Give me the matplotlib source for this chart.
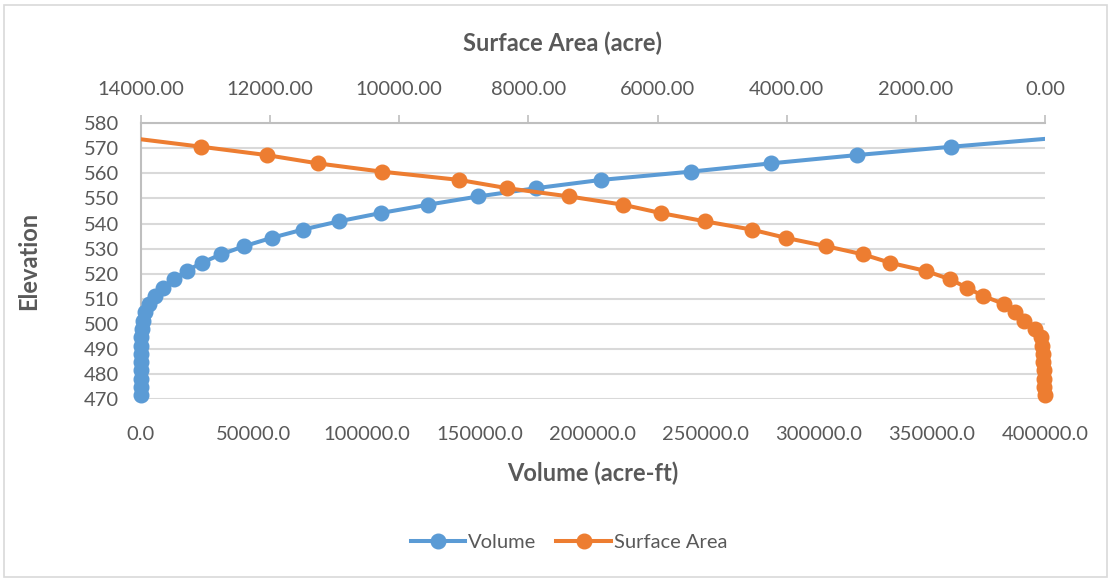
import matplotlib
matplotlib.use('Agg')
import matplotlib.pyplot as plt
from matplotlib.patches import Rectangle

### 데이터: 표고(ft), 저수량(acre-ft), 수면적(acre)
elev = [471.6, 474.9, 478.2, 481.5, 484.8, 488.1, 491.4, 494.7, 498.0, 501.3,
        504.6, 507.9, 511.2, 514.5, 517.8, 521.1, 524.4, 527.7, 531.0, 534.3,
        537.6, 540.9, 544.2, 547.5, 550.8, 554.1, 557.4, 560.7, 564.0, 567.3,
        570.6, 573.9]
volume = [0, 0, 0, 2, 5, 20, 60, 90, 260, 750,
          1800, 3700, 6200, 9900, 14600, 20200, 26900, 35400, 45700, 57800,
          71600, 87600, 106100, 126900, 149200, 174800, 203600, 243400, 278800, 316800,
          358400, 402000]
area = [5, 10, 15, 20, 25, 30, 40, 60, 150, 320,
        465, 630, 965, 1213, 1472, 1843, 2401, 2815, 3392, 4012,
        4543, 5267, 5953, 6532, 7368, 8329, 9073, 10275, 11266, 12056,
        13063, 14100]

vol_ticks = [0, 50000, 100000, 150000, 200000, 250000, 300000, 350000, 400000]
area_ticks = [14000, 12000, 10000, 8000, 6000, 4000, 2000, 0]
elev_ticks = list(range(470, 581, 10))

blue = '#5B9BD5'
orange = '#ED7D31'
gray = '#595959'

plt.rcParams['font.family'] = ['Lato', 'DejaVu Sans']
plt.rcParams['font.size'] = 14.5

fig = plt.figure(figsize=(11.11, 5.8), dpi=100)
ax = fig.add_axes([0.1269, 0.3117, 0.8137, 0.4759])
ax2 = ax.twiny()

### 선은 축 안에서 자르고, 마커는 잘리지 않게 따로 그림
n = len(elev) - 1
ax.plot(volume, elev, color=blue, lw=2.9, zorder=3)
ax.plot(volume[:n], elev[:n], 'o', color=blue, ms=10.5, clip_on=False, zorder=4)
ax2.plot(area, elev, color=orange, lw=2.9, zorder=3)
ax2.plot(area[:n], elev[:n], 'o', color=orange, ms=10.5, clip_on=False, zorder=4)

# 범례용 핸들
l1, = ax.plot([], [], color=blue, lw=2.9, marker='o', ms=10.5, label='Volume')
l2, = ax.plot([], [], color=orange, lw=2.9, marker='o', ms=10.5, label='Surface Area')

ax.set_xlim(0, 400000)
ax.set_ylim(470, 580)
ax2.set_xlim(14000, 0)

ax.set_xticks(vol_ticks)
ax.set_xticklabels(['%.1f' % v for v in vol_ticks])
ax2.set_xticks(area_ticks)
ax2.set_xticklabels(['%.2f' % v for v in area_ticks])
ax.set_yticks(elev_ticks)

ax.grid(axis='y', color='#D9D9D9', lw=1.5)
ax.set_axisbelow(True)

for a in (ax, ax2):
    for s in a.spines.values():
        s.set_visible(False)
ax2.spines['top'].set_visible(True)
ax2.spines['top'].set_color('#BFBFBF')
ax2.spines['top'].set_linewidth(1.5)
ax.spines['left'].set_visible(True)
ax.spines['left'].set_color('#BFBFBF')
ax.spines['left'].set_linewidth(1.5)

ax.tick_params(axis='x', length=0, pad=19, colors=gray)
ax.tick_params(axis='y', length=0, pad=16, colors=gray)
ax2.tick_params(axis='x', length=6, width=1.2, color='#BFBFBF', pad=12,
                labelcolor=gray)

ax.set_xlabel('Volume (acre-ft)', fontweight='bold', color=gray, fontsize=17)
ax.xaxis.set_label_coords(0.5, -0.225)
ax.set_ylabel('Elevation', fontweight='bold', color=gray, fontsize=17)
ax.yaxis.set_label_coords(-0.112, 0.5)
ax2.set_xlabel('Surface Area (acre)', fontweight='bold', color=gray, fontsize=17)
ax2.xaxis.set_label_coords(0.466, 1.26)

fig.legend(handles=[l1, l2], loc='center', bbox_to_anchor=(0.512, 0.064),
           ncol=2, frameon=False, handlelength=2.7, handletextpad=0.15,
           columnspacing=1.0, labelcolor=gray)

fig.patches.append(Rectangle((0.004, 0.005), 0.992, 0.987, transform=fig.transFigure,
                             fill=False, edgecolor='#D9D9D9', lw=1.2))

fig.savefig('out.png', dpi=100)
